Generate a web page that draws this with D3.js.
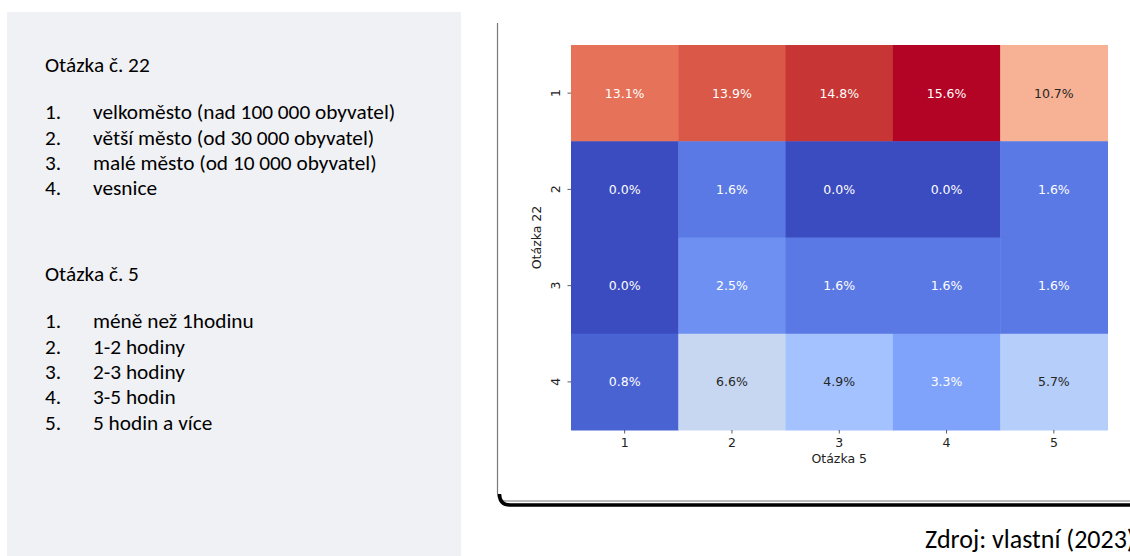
<!DOCTYPE html>
<html>
    <head>
        <meta charset="utf-8" />
        <style>
            body{ margin: 0; background: #fff; }
            svg{ display: block; }
            .slide-text{ font-family: Calibri, Carlito, "Open Sans", sans-serif; fill: #000; }
            .chart-text{ font-family: "DejaVu Sans", sans-serif; font-size: 12.5px; fill: #222; }
        </style>
    </head>
    <body>
        <svg id="slide" width="1130" height="556"></svg>
        <script src="https://cdnjs.cloudflare.com/ajax/libs/d3/7.8.5/d3.min.js"></script>
        <script>
            // legend texts on the left
            var q22Title = 'Otázka č. 22';
            var q22Options = ['velkoměsto (nad 100 000 obyvatel)', 'větší město (od 30 000 obyvatel)',
                              'malé město (od 10 000 obyvatel)', 'vesnice'];
            var q5Title = 'Otázka č. 5';
            var q5Options = ['méně než 1hodinu', '1-2 hodiny', '2-3 hodiny', '3-5 hodin', '5 hodin a více'];

            // heatmap: rows = Otázka 22, columns = Otázka 5 (percent)
            var colLabels = ['1', '2', '3', '4', '5'];
            var rowLabels = ['1', '2', '3', '4'];
            var row1 = [13.1, 13.9, 14.8, 15.6, 10.7];
            var row2 = [0.0, 1.6, 0.0, 0.0, 1.6];
            var row3 = [0.0, 2.5, 1.6, 1.6, 1.6];
            var row4 = [0.8, 6.6, 4.9, 3.3, 5.7];
            var source = 'Zdroj: vlastní (2023)';

            // coolwarm colormap stops
            var coolwarm = ['#3b4cc0','#445acc','#4d68d7','#5775e1','#6282ea','#6c8ef1','#779af7','#82a5fb',
                            '#8db0fe','#98b9ff','#a3c2ff','#aec9fd','#b8d0f9','#c2d5f4','#ccd9ee','#d5dbe6',
                            '#dddddd','#e5d8d1','#ecd3c5','#f1ccb9','#f5c4ad','#f7bba0','#f7b194','#f7a687',
                            '#f49a7b','#f18d6f','#ec7f63','#e57058','#de604d','#d55042','#cb3e38','#c0282f','#b40426'];

            var svg = d3.select('#slide');

            // left grey panel
            svg.append('rect')
                .attr('x', 7).attr('y', 12)
                .attr('width', 454).attr('height', 544)
                .attr('fill', '#f0f1f5');

            function drawList(title, options, top){
                svg.append('text')
                    .attr('class', 'slide-text')
                    .attr('x', 45).attr('y', top)
                    .attr('font-size', 21.3)
                    .text(title);
                var g = svg.append('g');
                g.selectAll('.num')
                    .data(options)
                    .enter().append('text')
                    .attr('class', 'slide-text num')
                    .attr('font-size', 21.3)
                    .attr('x', 45)
                    .attr('y', function(d, i){ return top + 47.6 + i * 25.3; })
                    .text(function(d, i){ return (i + 1) + '.'; });
                g.selectAll('.opt')
                    .data(options)
                    .enter().append('text')
                    .attr('class', 'slide-text opt')
                    .attr('font-size', 21.3)
                    .attr('x', 93)
                    .attr('y', function(d, i){ return top + 47.6 + i * 25.3; })
                    .text(function(d){ return d; });
            }
            drawList(q22Title, q22Options, 71.7);
            drawList(q5Title, q5Options, 280.7);

            // picture frame around the chart
            svg.append('path')
                .attr('d', 'M497.5,23 V493 Q497.5,501 505.5,501 H1130')
                .attr('fill', 'none')
                .attr('stroke', '#7a7a7a')
                .attr('stroke-width', 1.2);
            svg.append('path')
                .attr('d', 'M499.5,494 Q499.5,505 510,505 H1130')
                .attr('fill', 'none')
                .attr('stroke', '#000')
                .attr('stroke-width', 3.5);

            // heatmap
            var rows = [row1, row2, row3, row4];
            var cells = [];
            rows.forEach(function(r, i){
                r.forEach(function(v, j){
                    cells.push({row: rowLabels[i], col: colLabels[j], value: v});
                });
            });

            var x = d3.scaleBand().domain(colLabels).range([571, 1107.5]);
            var y = d3.scaleBand().domain(rowLabels).range([45, 430]);
            var maxVal = d3.max(cells, function(d){ return d.value; });
            var color = d3.scaleSequential(d3.piecewise(d3.interpolateRgb, coolwarm))
                .domain([d3.min(cells, function(d){ return d.value; }), maxVal]);

            function textColor(c){
                var rgb = d3.rgb(c);
                var lin = [rgb.r, rgb.g, rgb.b].map(function(v){
                    v = v / 255;
                    return v <= 0.03928 ? v / 12.92 : Math.pow((v + 0.055) / 1.055, 2.4);
                });
                var lum = 0.2126 * lin[0] + 0.7152 * lin[1] + 0.0722 * lin[2];
                return lum > 0.408 ? '#262626' : '#ffffff';
            }

            var heat = svg.append('g');
            heat.selectAll('.cell')
                .data(cells)
                .enter().append('rect')
                .attr('class', 'cell')
                .attr('x', function(d){ return x(d.col); })
                .attr('y', function(d){ return y(d.row); })
                .attr('width', x.bandwidth() + 0.5)
                .attr('height', y.bandwidth() + 0.5)
                .attr('fill', function(d){ return color(d.value); });

            heat.selectAll('.annot')
                .data(cells)
                .enter().append('text')
                .attr('class', 'chart-text annot')
                .attr('text-anchor', 'middle')
                .attr('x', function(d){ return x(d.col) + x.bandwidth() / 2; })
                .attr('y', function(d){ return y(d.row) + y.bandwidth() / 2; })
                .attr('dy', '0.36em')
                .style('fill', function(d){ return textColor(color(d.value)); })
                .text(function(d){ return d.value.toFixed(1) + '%'; });

            // axes
            var xAxis = d3.axisBottom(x).tickSize(3.5).tickPadding(4.5);
            var xg = svg.append('g')
                .attr('transform', 'translate(0,430)')
                .call(xAxis);
            xg.select('.domain').remove();
            xg.selectAll('line').attr('stroke', '#333').attr('stroke-width', 0.8);
            xg.selectAll('text')
                .attr('class', 'chart-text')
                .attr('font-family', null).attr('font-size', null)
                .attr('dy', '0.72em');

            var yAxis = d3.axisLeft(y).tickSize(3.5).tickPadding(0);
            var yg = svg.append('g')
                .attr('transform', 'translate(571,0)')
                .call(yAxis);
            yg.select('.domain').remove();
            yg.selectAll('line').attr('stroke', '#333').attr('stroke-width', 0.8);
            yg.selectAll('text')
                .attr('class', 'chart-text')
                .attr('font-family', null).attr('font-size', null)
                .attr('x', null).attr('dy', null)
                .attr('text-anchor', 'middle')
                .attr('transform', 'translate(-11,0) rotate(-90)');

            svg.append('text')
                .attr('class', 'chart-text')
                .attr('text-anchor', 'middle')
                .attr('x', (571 + 1107.5) / 2)
                .attr('y', 462.5)
                .text('Otázka 5');

            svg.append('text')
                .attr('class', 'chart-text')
                .attr('text-anchor', 'middle')
                .attr('transform', 'translate(541,237.5) rotate(-90)')
                .text('Otázka 22');

            // source line
            svg.append('text')
                .attr('class', 'slide-text')
                .attr('x', 925).attr('y', 547.5)
                .attr('font-size', 26)
                .text(source);
        </script>
    </body>
</html>
